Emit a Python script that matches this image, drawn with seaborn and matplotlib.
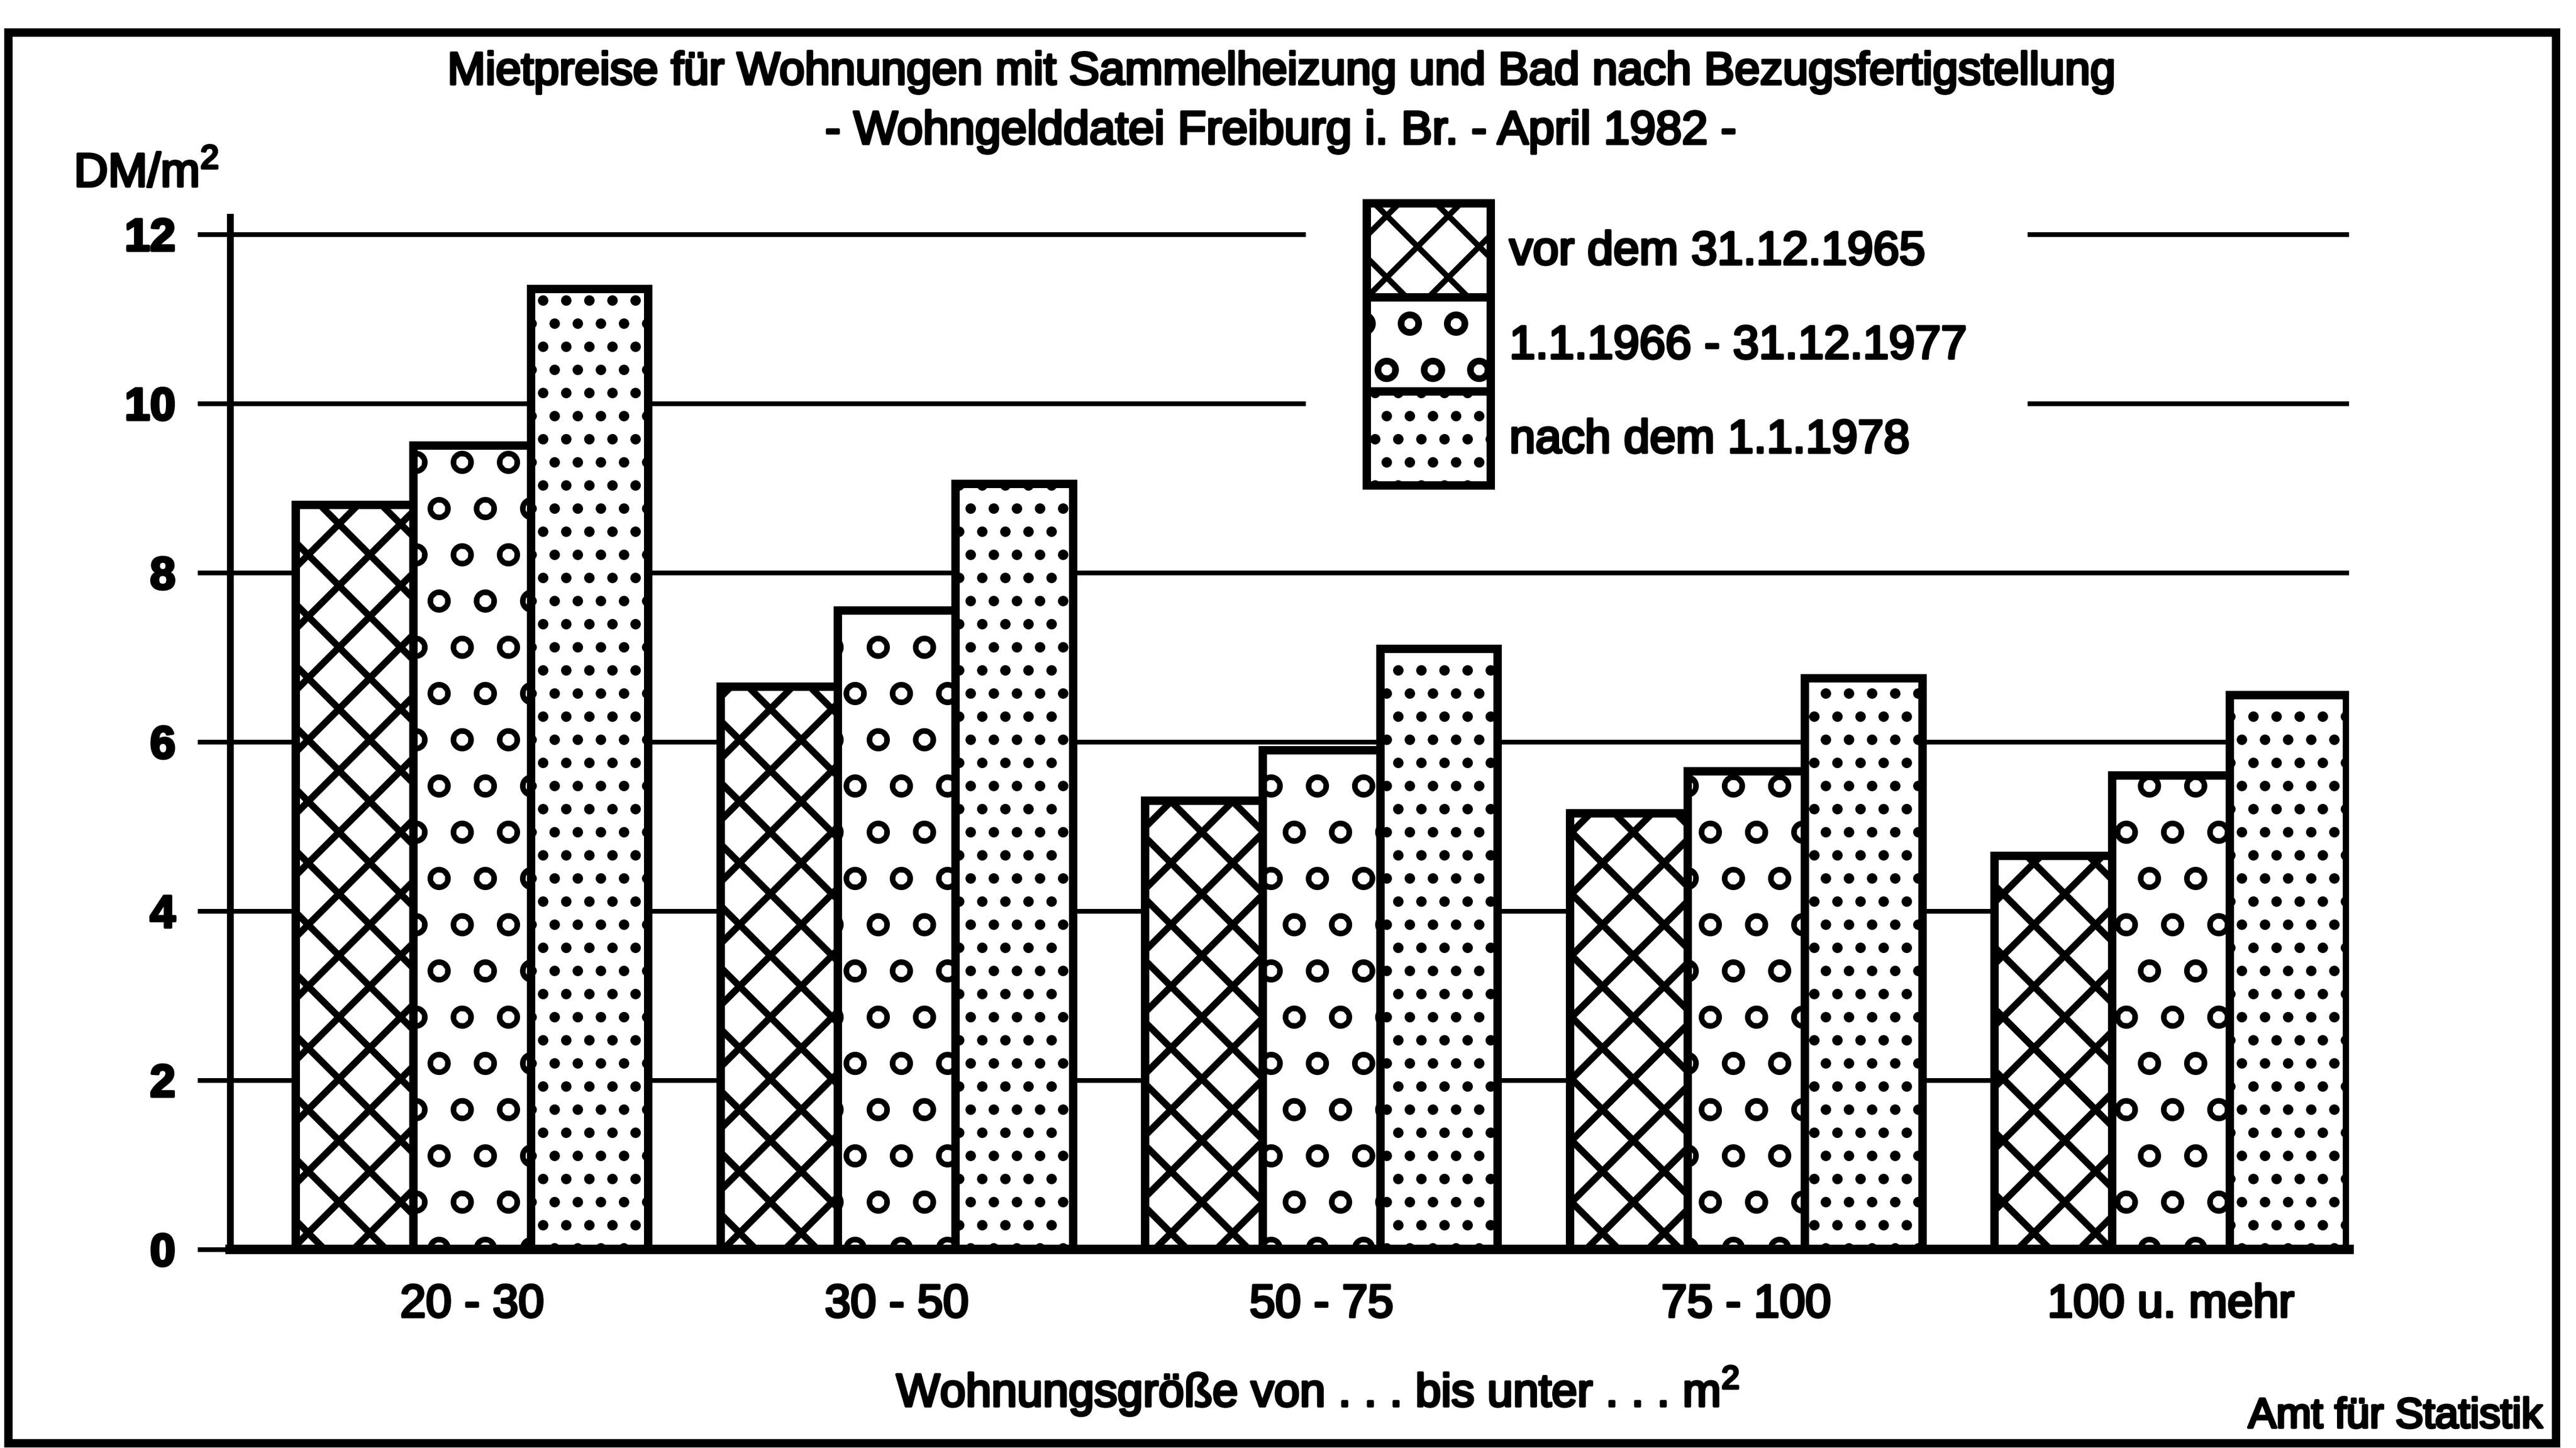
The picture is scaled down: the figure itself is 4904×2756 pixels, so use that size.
import pandas as pd
import matplotlib.pyplot as plt
import matplotlib.patches as mpatches
import matplotlib.patheffects as pe
import seaborn as sns

# Mietpreise (DM/m2) nach Wohnungsgroesse und Bezugsfertigstellung
groessen = ["20 - 30", "30 - 50", "50 - 75", "75 - 100", "100 u. mehr"]
zeitraeume = ["vor dem 31.12.1965", "1.1.1966 - 31.12.1977", "nach dem 1.1.1978"]
miete_vor_1966 = [8.8, 6.65, 5.3, 5.15, 4.65]
miete_1966_1977 = [9.5, 7.55, 5.9, 5.65, 5.6]
miete_ab_1978 = [11.35, 9.05, 7.1, 6.75, 6.55]
y_ticks = [0, 2, 4, 6, 8, 10, 12]
muster = ["xxx", "oo", "...."]

# hatch cell size is tied to dpi, this one gives the scan's pattern spacing
DPI = 1056
PX = 72 / DPI  # one output pixel in points
muster_lw = [13 * PX, 9 * PX, 11 * PX]

df = pd.DataFrame({
    "groesse": groessen * 3,
    "zeitraum": [z for z in zeitraeume for _ in groessen],
    "miete": miete_vor_1966 + miete_1966_1977 + miete_ab_1978,
})

sns.set_style("white", {"axes.edgecolor": "black", "text.color": "black",
                        "xtick.color": "black", "ytick.color": "black"})
plt.rcParams["font.family"] = ["Liberation Sans", "DejaVu Sans"]
plt.rcParams["mathtext.fontset"] = "custom"
plt.rcParams["mathtext.rm"] = "Liberation Sans"
plt.rcParams["hatch.linewidth"] = 11 * PX
plt.rcParams["hatch.color"] = "black"

fig = plt.figure(figsize=(4904 / DPI, 2756 / DPI), dpi=DPI)
ax = fig.add_axes([0.0893, 0.1373, 0.8227, 0.7127])

sns.barplot(data=df, x="groesse", y="miete", hue="zeitraum",
            order=groessen, hue_order=zeitraeume,
            palette=["white"] * 3, saturation=1,
            edgecolor="black", linewidth=16 * PX,
            width=0.83, gap=0, errorbar=None, legend=False, ax=ax)

for container, hatch, hlw in zip(ax.containers, muster, muster_lw):
    for bar in container:
        bar.set_hatch(hatch)
        if hasattr(bar, "set_hatch_linewidth"):
            bar.set_hatch_linewidth(hlw)

ax.set_xlim(-0.57, 4.42)
ax.set_ylim(0, 12.2)
ax.set_yticks(y_ticks)
ax.yaxis.grid(True, color="black", linewidth=9 * PX)
ax.set_axisbelow(True)
ax.tick_params(axis="y", left=True, direction="out", length=62 * PX,
               width=9 * PX, pad=42 * PX, labelsize=87 * PX)
for lab in ax.get_yticklabels():
    lab.set_family(["Liberation Sans Narrow", "Liberation Sans"])
    lab.set_fontweight("bold")
ax.tick_params(axis="x", length=0, pad=66 * PX, labelsize=88 * PX)
ax.set_xlabel("")
ax.set_ylabel("")
sns.despine(ax=ax)
ax.spines["left"].set_linewidth(13 * PX)
ax.spines["bottom"].set_linewidth(18 * PX)

leg = ax.legend(ax.containers, zeitraeume, loc="upper left",
                bbox_to_anchor=(0.507, 0.9016), bbox_transform=fig.transFigure,
                fontsize=89 * PX, frameon=True, facecolor="white",
                edgecolor="none", framealpha=1, fancybox=False,
                borderpad=1.3, labelspacing=0, handlelength=2.65,
                handleheight=2.72, handletextpad=0.4, borderaxespad=0)

fig.text(0.497, 0.950,
         "Mietpreise für Wohnungen mit Sammelheizung und Bad nach Bezugsfertigstellung",
         ha="center", va="center", fontsize=87 * PX)
fig.text(0.497, 0.909, "- Wohngelddatei Freiburg i. Br. - April 1982 -",
         ha="center", va="center", fontsize=89 * PX)
fig.text(0.0287, 0.871, r"DM/m$^{\mathrm{2}}$", ha="left", va="baseline",
         fontsize=90 * PX)
fig.text(0.5115, 0.0286, r"Wohnungsgröße von . . . bis unter . . . m$^{\mathrm{2}}$",
         ha="center", va="baseline", fontsize=88 * PX)
fig.text(0.987, 0.0141, "Amt für Statistik", ha="right", va="baseline",
         fontsize=80 * PX)

# thicken the glyphs a little, like the printed scan
ink = [pe.withStroke(linewidth=5 * PX, foreground="black")]
for t in (fig.texts + ax.get_xticklabels() + ax.get_yticklabels()
          + leg.get_texts()):
    t.set_path_effects(ink)

fig.add_artist(mpatches.Rectangle((0.0032, 0.0034), 0.989, 0.974,
                                  transform=fig.transFigure, fill=False,
                                  edgecolor="black", linewidth=16 * PX))

fig.savefig("out.png", dpi=DPI)
